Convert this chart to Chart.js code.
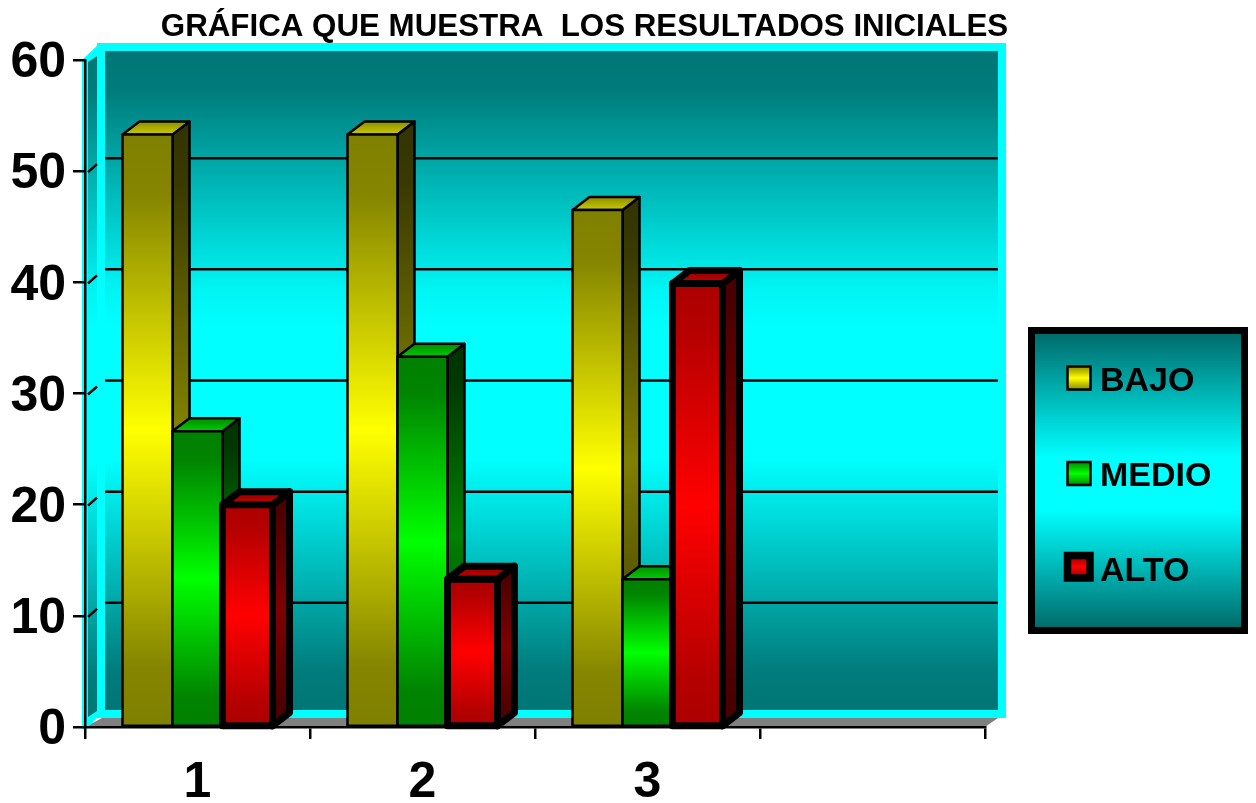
<!DOCTYPE html>
<html>
<head>
<meta charset="utf-8">
<script src="https://cdn.jsdelivr.net/npm/chart.js@4"></script>
<style>html,body{margin:0;padding:0;background:#fff}canvas{display:block}</style>
</head>
<body>
<canvas id="c" width="1256" height="803"></canvas>
<script>
const categories = ['1', '2', '3', ''];
const bajo = [53.3, 53.3, 46.5, null];
const medio = [26.6, 33.3, 13.3, null];
const alto = [20, 13.3, 39.9, null];
const seriesNames = ['BAJO', 'MEDIO', 'ALTO'];
const titleText = 'GRÁFICA QUE MUESTRA  LOS RESULTADOS INICIALES';

const rgb = (c, k) => `rgb(${c.map(v => Math.round(v * k)).join(',')})`;
const bright = [[255, 255, 0], [0, 255, 0], [255, 0, 0]];
const edge = [0.5, 0.5, 0.68];
const strokeW = [2.5, 2.5, 7];
const DX = 17, DY = 13;

function vGrad(ctx, y0, y1, stops) {
  const g = ctx.createLinearGradient(0, y0, 0, y1);
  stops.forEach(s => g.addColorStop(s[0], s[1]));
  return g;
}

function poly(ctx, pts) {
  ctx.beginPath();
  pts.forEach((p, i) => i ? ctx.lineTo(p[0], p[1]) : ctx.moveTo(p[0], p[1]));
  ctx.closePath();
}

const scenery = {
  id: 'scenery',
  afterLayout(chart) {
    const t = chart.titleBlock;
    t.left = 120; t.right = 1049; t.width = 929; t.top = 8; t.bottom = 46; t.height = 38;
    const l = chart.legend;
    l.left = 1022; l.right = 1256; l.width = 234;
    l.top = 304; l.bottom = 1000; l.height = 696;
    const ys = chart.scales.y;
    if (!ys._shifted) {
      ys._shifted = true;
      const orig = ys.drawLabels;
      ys.drawLabels = function (area) {
        chart.ctx.save();
        chart.ctx.translate(0, 3.5);
        orig.call(this, area);
        chart.ctx.restore();
      };
    }
  },
  beforeDraw(chart) {
    const ctx = chart.ctx, a = chart.chartArea, y = chart.scales.y;
    ctx.save();
    const tealStops = [[0, '#007676'], [0.06, '#007c7c'], [0.36, '#00f4f4'], [0.42, '#00ffff'], [0.62, '#00ffff'], [0.94, '#007c7c'], [1, '#007676']];

    // floor
    ctx.fillStyle = '#808080';
    poly(ctx, [[a.left, a.bottom], [a.left + DX, a.bottom - 9], [998, a.bottom - 9], [a.right, a.bottom]]);
    ctx.fill();

    // left wall
    ctx.fillStyle = '#00ffff';
    poly(ctx, [[82, 60], [100, 43], [105, 43], [105, 718], [97, 718], [86, 729], [82, 729]]);
    ctx.fill();
    ctx.fillStyle = vGrad(ctx, 51, 716, tealStops);
    poly(ctx, [[88, 62], [97, 56], [97, 711], [88, 717]]);
    ctx.fill();

    // back wall
    ctx.fillStyle = '#00ffff';
    ctx.fillRect(97, 43, 909, 675);
    ctx.fillStyle = vGrad(ctx, 51, 710, tealStops);
    ctx.fillRect(105, 51, 893, 659);

    // gridlines on back and side walls
    ctx.strokeStyle = '#000';
    ctx.lineWidth = 2.5;
    y.ticks.forEach(t => {
      if (t.value <= 0 || t.value >= 60) return;
      const py = y.getPixelForValue(t.value);
      ctx.beginPath();
      ctx.moveTo(105, py - DY);
      ctx.lineTo(998, py - DY);
      ctx.moveTo(88, py + 1);
      ctx.lineTo(97, py - 7);
      ctx.stroke();
    });

    // legend panel
    ctx.fillStyle = '#000';
    ctx.fillRect(1028, 327, 220, 307);
    ctx.fillStyle = vGrad(ctx, 334, 627, [[0, '#006c6c'], [0.42, '#00ffff'], [0.6, '#00ffff'], [1, '#006c6c']]);
    ctx.fillRect(1035, 334, 206, 293);
    ctx.restore();
  },
  afterDatasetsDraw(chart) {
    const ctx = chart.ctx;
    ctx.save();
    ctx.strokeStyle = '#000';
    ctx.lineJoin = 'round';
    chart.data.datasets.forEach((ds, d) => {
      const c = bright[d], e = edge[d];
      chart.getDatasetMeta(d).data.forEach((bar, i) => {
        if (ds.data[i] == null) return;
        const x0 = bar.x - bar.width / 2, x1 = bar.x + bar.width / 2, top = bar.y, base = bar.base;
        ctx.lineWidth = strokeW[d];
        ctx.fillStyle = vGrad(ctx, top - DY, base, [[0, rgb(c, e * 0.4)], [0.1, rgb(c, e * 0.45)], [0.5, rgb(c, 0.5)], [0.9, rgb(c, e * 0.45)], [1, rgb(c, e * 0.4)]]);
        poly(ctx, [[x1, top], [x1 + DX, top - DY], [x1 + DX, base - DY], [x1, base]]);
        ctx.fill(); ctx.stroke();
        const tg = ctx.createLinearGradient(0, top - DY, 0, top);
        tg.addColorStop(0, rgb(c, 0.55));
        tg.addColorStop(1, rgb(c, 0.8));
        ctx.fillStyle = tg;
        poly(ctx, [[x0, top], [x0 + DX, top - DY], [x1 + DX, top - DY], [x1, top]]);
        ctx.fill(); ctx.stroke();
        ctx.fillStyle = vGrad(ctx, top, base, [[0, rgb(c, e)], [0.1, rgb(c, e * 1.04)], [0.5, rgb(c, 1)], [0.9, rgb(c, e * 1.04)], [1, rgb(c, e)]]);
        poly(ctx, [[x0, top], [x1, top], [x1, base], [x0, base]]);
        ctx.fill(); ctx.stroke();
      });
    });
    ctx.restore();
  },
  afterDraw(chart) {
    const ctx = chart.ctx;
    ctx.save();
    const rows = [[1067.5, 366.5, 23, 2.5], [1067.5, 462, 23, 2.5], [1067.5, 555.5, 22.5, 7.5]];
    rows.forEach((r, d) => {
      const c = bright[d];
      ctx.fillStyle = vGrad(ctx, r[1], r[1] + r[2], [[0, rgb(c, 0.55)], [0.5, rgb(c, 1)], [1, rgb(c, 0.55)]]);
      ctx.fillRect(r[0], r[1], r[2], r[2]);
      ctx.strokeStyle = '#000';
      ctx.lineWidth = r[3];
      ctx.strokeRect(r[0], r[1], r[2], r[2]);
    });
    ctx.restore();
  }
};

new Chart(document.getElementById('c'), {
  type: 'bar',
  plugins: [scenery],
  data: {
    labels: categories,
    datasets: [
      { label: seriesNames[0], data: bajo, backgroundColor: '#ffff00' },
      { label: seriesNames[1], data: medio, backgroundColor: '#00ff00' },
      { label: seriesNames[2], data: alto, backgroundColor: '#ff0000' }
    ]
  },
  options: {
    responsive: false,
    animation: false,
    devicePixelRatio: 1,
    layout: { padding: { top: 22, right: 271, left: 0, bottom: 0 } },
    datasets: { bar: { barPercentage: 1, categoryPercentage: 2 / 3 } },
    plugins: {
      tooltip: { enabled: false },
      title: {
        display: true,
        text: titleText,
        color: '#000',
        padding: 0,
        font: { family: '"Liberation Sans"', weight: 'bold', size: 31.3, lineHeight: 1.214 }
      },
      legend: {
        position: 'chartArea',
        align: 'start',
        labels: {
          boxWidth: 0,
          boxHeight: 14,
          padding: 61,
          color: '#000',
          font: { family: '"Liberation Sans"', weight: 'bold', size: 34 },
          generateLabels: chart => chart.data.datasets.map((ds, i) => ({
            text: ds.label, fillStyle: 'rgba(0,0,0,0)', strokeStyle: 'rgba(0,0,0,0)',
            lineWidth: 0, hidden: false, datasetIndex: i, fontColor: '#000'
          }))
        }
      }
    },
    scales: {
      x: {
        afterFit: s => { s.height = 76; },
        grid: { drawOnChartArea: false, color: '#000', tickLength: 12, lineWidth: 2.5, offset: true },
        border: { color: '#000', width: 2.5 },
        ticks: { color: '#000', padding: 14, maxRotation: 0, font: { family: '"Liberation Sans"', weight: 'bold', size: 50 } }
      },
      y: {
        min: 0,
        max: 60,
        afterFit: s => { s.width = 85; },
        grid: { drawOnChartArea: false, color: '#000', tickLength: 12, lineWidth: 2.5 },
        border: { color: '#000', width: 2.5 },
        ticks: { color: '#000', stepSize: 10, padding: 7, font: { family: '"Liberation Sans"', weight: 'bold', size: 50 } }
      }
    }
  }
});
</script>
</body>
</html>
